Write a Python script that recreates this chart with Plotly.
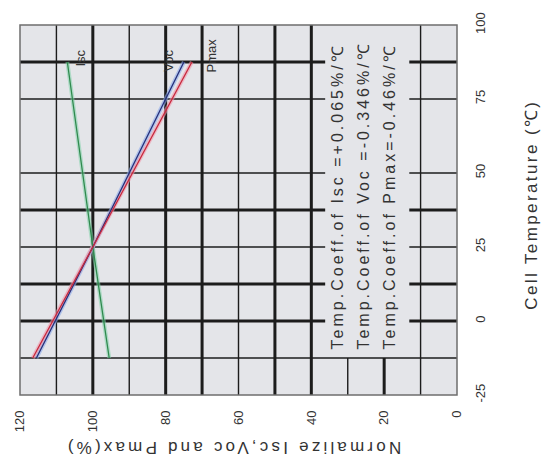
import plotly.graph_objects as go

# Normalized module parameters (%) versus cell temperature (°C)
temps = [-12.5, 25, 87.5]
isc = [95.5, 100, 107.0]
voc = [115.5, 100, 75.0]
pmax = [116.5, 100, 72.8]

norm_ticks = [0, 20, 40, 60, 80, 100, 120]
temp_ticks = [-25, 0, 25, 50, 75, 100]

coeff_lines = [
    "Temp.Coeff.of Isc =+0.065%/℃",
    "Temp.Coeff.of Voc =-0.346%/℃",
    "Temp.Coeff.of Pmax=-0.46%/℃",
]
curve_names = ["Isc", "Voc", "Pmax"]

FONT = "Liberation Sans, Arial, sans-serif"
INK = "#1c1c1c"
TEXT = "#333333"


def spaced(text, px):
    return f'<span style="letter-spacing:{px}px">{text}</span>'


fig = go.Figure()

# curves: soft halo underneath, thin core on top
series = [
    (isc, "rgba(130,210,170,0.55)", "#2f8a4e"),
    (voc, "rgba(140,170,235,0.6)", "#27307a"),
    (pmax, "rgba(240,150,170,0.6)", "#c8283c"),
]
for vals, halo, core in series:
    fig.add_trace(go.Scatter(x=vals, y=temps, mode="lines",
                             line=dict(color=halo, width=4), hoverinfo="skip"))
for (vals, halo, core), name in zip(series, curve_names):
    fig.add_trace(go.Scatter(x=vals, y=temps, mode="lines", name=name,
                             line=dict(color=core, width=1.3)))

# grid drawn as segments so the note area stays clear
shapes = []


def seg(x0, x1, y0, y1, w):
    shapes.append(dict(type="line", xref="x", yref="y", x0=x0, x1=x1, y0=y0, y1=y1,
                       line=dict(color=INK, width=w), layer="below"))


for v in [110, 90, 60, 10]:
    seg(v, v, -25, 100, 1.4)
for v in [100, 80, 70, 50, 40]:
    seg(v, v, -25, 100, 3)
seg(30, 30, -25, -12.5, 1.4)
seg(20, 20, -25, -12.5, 3)

for t in [75, 50, 25]:
    seg(120, 36.2, t, t, 1.4)
    seg(13.1, 0, t, t, 1.4)
for t in [87.5, 37.5, 12.5, 0]:
    seg(120, 36.2, t, t, 3)
    seg(13.1, 0, t, t, 3)
seg(120, 0, -12.5, -12.5, 1.4)

shapes.append(dict(type="rect", xref="paper", yref="paper", x0=0, x1=1, y0=0, y1=1,
                   line=dict(color="#6e6e6e", width=1.5), layer="above"))

annotations = []
# curve labels
for name, xv, yv in [("Isc", 103.4, 88.8), ("Voc", 79.2, 87.8), ("Pmax", 67.5, 89.8)]:
    annotations.append(dict(x=xv, y=yv, xref="x", yref="y", text=name, showarrow=False,
                            textangle=-90, font=dict(family=FONT, size=13, color=TEXT)))

# temperature coefficient notes
for txt, xv in zip(coeff_lines, [32.9, 25.7, 18.6]):
    annotations.append(dict(x=xv, y=-10.2, xref="x", yref="y", text=spaced(txt, 3.0),
                            showarrow=False, textangle=-90, xanchor="center", yanchor="bottom",
                            font=dict(family=FONT, size=16, color=TEXT)))

# axis titles
annotations.append(dict(x=(230 - 15) / 442, y=-(449 - 395) / 379, xref="paper", yref="paper",
                        text=spaced("Normalize Isc,Voc and Pmax(%)", 3.2), showarrow=False,
                        textangle=180, xanchor="center", yanchor="middle",
                        font=dict(family=FONT, size=17, color=TEXT)))
annotations.append(dict(x=(532 - 15) / 442, y=(395 - 200) / 379, xref="paper", yref="paper",
                        text=spaced("Cell Temperature (℃)", 2.4), showarrow=False,
                        textangle=-90, xanchor="center", yanchor="middle",
                        font=dict(family=FONT, size=17, color=TEXT)))

fig.update_layout(
    width=547, height=466,
    margin=dict(l=15, r=90, t=16, b=71),
    paper_bgcolor="white",
    plot_bgcolor="#e4e5e9",
    showlegend=False,
    shapes=shapes,
    annotations=annotations,
    xaxis=dict(range=[120, 0], tickvals=norm_ticks, ticktext=[str(v) for v in norm_ticks],
               tickangle=-90, showgrid=False, zeroline=False, showline=False,
               ticks="", ticklabelstandoff=12,
               tickfont=dict(family=FONT, size=13, color=TEXT)),
    yaxis=dict(range=[-25, 100], tickvals=temp_ticks, ticktext=[str(v) for v in temp_ticks],
               side="right", tickangle=-90, showgrid=False, zeroline=False, showline=False,
               ticks="", ticklabelstandoff=14,
               tickfont=dict(family=FONT, size=13, color=TEXT)),
)

fig.write_html("out.html")
